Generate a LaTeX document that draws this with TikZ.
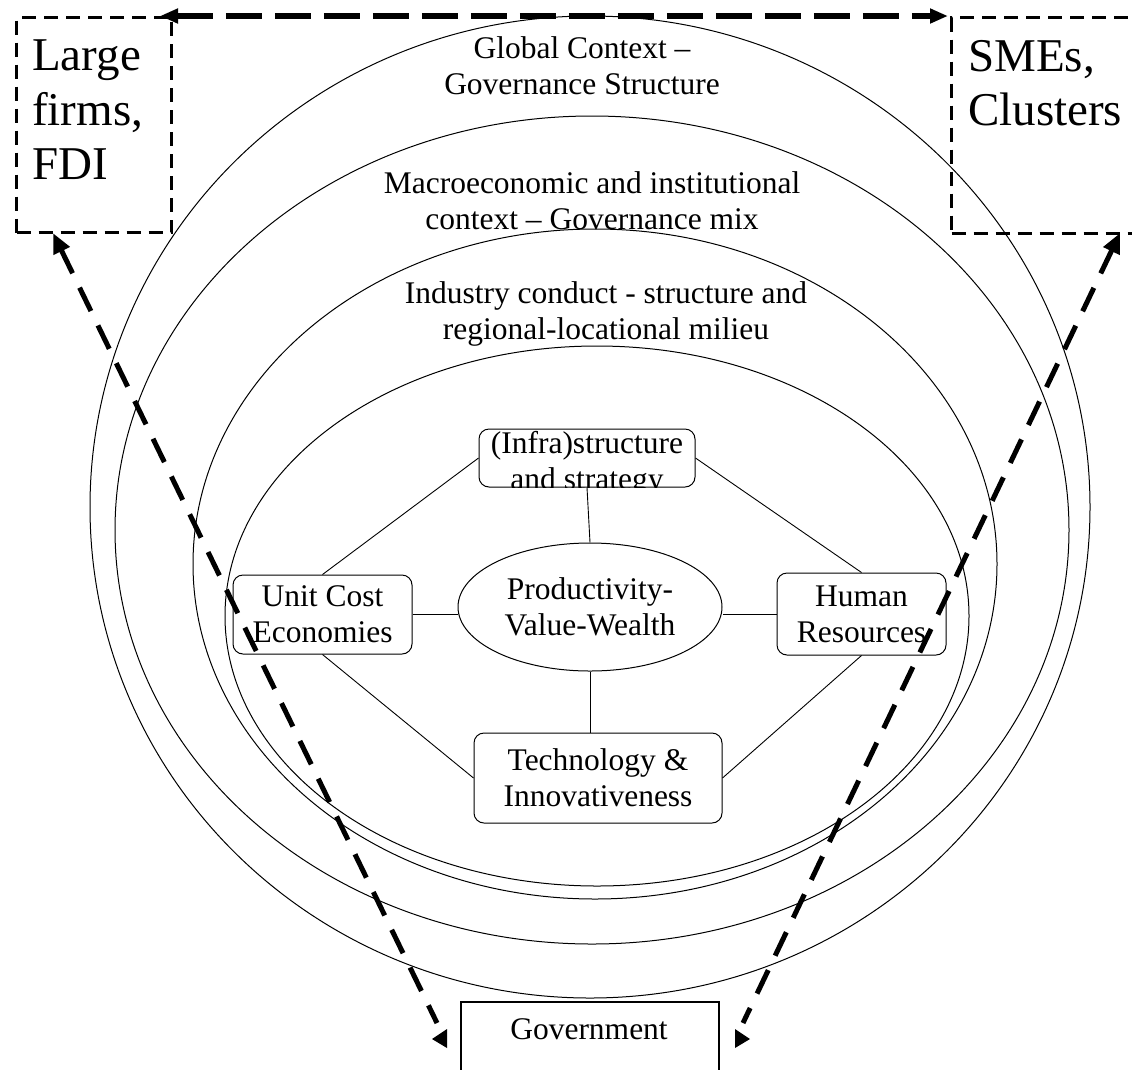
\documentclass[tikz,border=0pt]{standalone}
\usepackage{fontspec}
\setmainfont{Liberation Serif}
\usetikzlibrary{arrows.meta,shapes.geometric}
\begin{document}
\begin{tikzpicture}[x=1pt,y=-1pt,
  ring/.style={draw, line width=1pt},
  lab/.style={font=\fontsize{31.5}{36}\selectfont, align=center, inner sep=0pt},
  rbox/.style={draw, line width=1pt, rounded corners=10pt, fill=white, inner sep=0pt, lab},
  big/.style={font=\fontsize{47}{54.5}\selectfont, align=left, inner sep=0pt, anchor=north west},
  conn/.style={line width=0.9pt},
  bigdash/.style={line width=5pt, dash pattern=on 26pt off 16pt},
  topdash/.style={line width=5.5pt, dash pattern=on 36pt off 13pt},
  boxdash/.style={draw, line width=3pt, dash pattern=on 14pt off 8pt, inner sep=0pt},
  tipL/.style={{Triangle[length=20pt,width=17pt]}-},
]
\useasboundingbox (0,0) rectangle (1132,1069);

% nested context ellipses
\draw[ring] (590,507) ellipse [x radius=500pt, y radius=491pt];
\draw[ring] (592,530) ellipse [x radius=477pt, y radius=414pt];
\draw[ring] (595,564) ellipse [x radius=402pt, y radius=335pt];
\draw[ring] (597,616) ellipse [x radius=372pt, y radius=270pt];

% ring labels
\node[lab] (global) at (582,66) {Global Context –\\Governance Structure};
\node[lab] (macro) at (592,201) {Macroeconomic and institutional\\context – Governance mix};
\node[lab] (industry) at (606,314) {Industry conduct - structure and\\regional-locational milieu};

% inner nodes
\node[draw, ellipse, line width=1pt, minimum width=264pt, minimum height=128pt, inner sep=0pt, lab] (prod) at (590,607) {Productivity-\\Value-Wealth};
\node[rbox, minimum width=216pt, minimum height=58pt] (infra) at (587,458) {};
\begin{scope}
  \clip (infra.north west) rectangle (infra.south east);
  \node[lab, anchor=base] (infraA) at (587,453) {(Infra)structure};
  \node[lab, anchor=base] (infraB) at (587,489) {and strategy};
\end{scope}
\node[rbox, minimum width=179pt, minimum height=79pt] (unit) at (322.5,614.5) {Unit Cost\\Economies};
\node[rbox, minimum width=169pt, minimum height=82pt] (hr) at (861.5,614) {Human\\Resources};
\node[rbox, minimum width=248pt, minimum height=90pt] (tech) at (598,778) {Technology \&\\Innovativeness};

% connectors
\draw[conn] (infra.south) -- (prod.north);
\draw[conn] (prod.south) -- (prod.south |- tech.north);
\draw[conn] (unit.east) -- (unit.east -| prod.west);
\draw[conn] (hr.west) -- (hr.west -| prod.east);
\draw[conn] (infra.west) -- (unit.north);
\draw[conn] (infra.east) -- (hr.north);
\draw[conn] (unit.south) -- (tech.west);
\draw[conn] (hr.south) -- (tech.east);

% government
\node[draw, line width=2pt, minimum width=258pt, minimum height=110pt, anchor=north west, inner sep=0pt] (gov) at (460,1001) {};
\node[lab] (govt) at (589,1029) {Government};

% actor boxes
\node[boxdash, minimum width=155pt, minimum height=215pt, anchor=north west] (lbox) at (15,16) {};
\node[boxdash, minimum width=200pt, minimum height=216pt, anchor=north west] (rbx) at (950,16) {};
\node[big] (large) at (32,40) {Large\\firms,\\FDI};
\node[big] (smes) at (968,40) {SMEs,\\Clusters};

% thick dashed arrows
\coordinate (tl) at (160,16);
\coordinate (tr) at (948,16);
\draw[topdash, {Triangle[length=18pt,width=14pt]}-{Triangle[length=18pt,width=14pt]}] (tl) -- (tr);

\coordinate (la) at (53,233);
\coordinate (lb) at (437,1023);
\draw[bigdash, tipL] (la) -- (lb);
\fill (432,1039) -- (447,1029) -- (447,1048) -- cycle;

\coordinate (ra) at (1120,233);
\coordinate (rb) at (743,1023);
\draw[bigdash, tipL] (ra) -- (rb);
\fill (750,1039) -- (735,1029) -- (735,1048) -- cycle;
\end{tikzpicture}
\end{document}
